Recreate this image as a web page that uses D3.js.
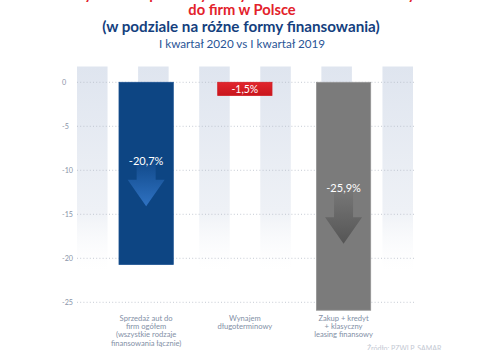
<!DOCTYPE html>
<html>
<head>
<meta charset="utf-8">
<script src="https://cdn.jsdelivr.net/npm/d3@7"></script>
<style>
  html, body { margin: 0; padding: 0; background: #ffffff; }
  svg { display: block; }
</style>
</head>
<body>
<svg id="chart" width="480" height="350"></svg>
<script>
// ---- data ----
const categories = ["sprzedaz", "wynajem", "zakup"];
const categoryLabels = [
  ["Sprzedaż aut do", "firm ogółem", "(wszystkie rodzaje", "finansowania łącznie)"],
  ["Wynajem", "długoterminowy"],
  ["Zakup + kredyt", "+ klasyczny", "leasing finansowy"]
];
const values = [-20.7, -1.5, -25.9];
const valueLabels = ["-20,7%", "-1,5%", "-25,9%"];
const yTicks = [0, -5, -10, -15, -20, -25];
const stripes = ["s1", "s2", "s3", "s4", "s5", "s6"];
const titleLines = [
  "Dynamika sprzedaży nowych samochodów osobowych",
  "do firm w Polsce",
  "(w podziale na różne formy finansowania)",
  "I kwartał 2020 vs I kwartał 2019"
];
const sourceText = "Źródło: PZWLP, SAMAR";

// ---- setup ----
const svg = d3.select("#chart");
const defs = svg.append("defs");
const font = "Lato, 'Open Sans', sans-serif";

const y = d3.scaleLinear().domain([0, -25]).range([82.3, 302.3]);
const x = d3.scaleBand().domain(categories).range([119, 370.7]).paddingInner(0.45).paddingOuter(0);
const xs = d3.scaleBand().domain(stripes).range([77, 413]).paddingInner(0.5).paddingOuter(0);

// gradients
function linGrad(id, stops) {
  const g = defs.append("linearGradient").attr("id", id)
    .attr("x1", 0).attr("y1", 0).attr("x2", 0).attr("y2", 1);
  stops.forEach(s => g.append("stop").attr("offset", s[0]).attr("stop-color", s[1]).attr("stop-opacity", s[2] === undefined ? 1 : s[2]));
}
linGrad("stripeG", [[0, "#dfe5ef"], [0.7, "#eef1f6"], [1, "#ffffff", 0.3]]);
linGrad("redG", [[0, "#e2252c"], [1, "#c8161d"]]);
linGrad("blueArrow", [[0, "#0f4787"], [1, "#2f72c2"]]);
linGrad("grayArrow", [[0, "#7a7a7a"], [1, "#555555"]]);

// background stripes
svg.append("g").selectAll("rect").data(stripes).join("rect")
  .attr("x", d => xs(d)).attr("width", xs.bandwidth())
  .attr("y", 66.5).attr("height", 205)
  .attr("fill", "url(#stripeG)");

// gridlines
svg.append("g").selectAll("line").data(yTicks).join("line")
  .attr("x1", 77).attr("x2", 414)
  .attr("y1", d => y(d)).attr("y2", d => y(d))
  .attr("stroke", "#b8bec8").attr("stroke-width", 0.8)
  .attr("stroke-dasharray", "1,2.2");

// y tick labels
svg.append("g").selectAll("text").data(yTicks).join("text")
  .attr("x", 62).attr("y", d => y(d) + 2.5)
  .attr("font-family", font).attr("font-size", 7.2)
  .attr("fill", "#8a94a8")
  .text(d => d === 0 ? "0" : String(d));

// bars
const barFill = ["#0d4583", "url(#redG)", "#7b7b7b"];
const barStroke = ["#1a5090", "#d01e25", "#949494"];
svg.append("g").selectAll("rect").data(values).join("rect")
  .attr("x", (d, i) => x(categories[i]))
  .attr("width", x.bandwidth())
  .attr("y", d => y(0))
  .attr("height", d => y(d) - y(0))
  .attr("fill", (d, i) => barFill[i])
  .attr("stroke", (d, i) => barStroke[i])
  .attr("stroke-width", 0.8);

// arrows inside bars 1 and 3
const arrowFill = ["url(#blueArrow)", null, "url(#grayArrow)"];
values.forEach((v, i) => {
  if (!arrowFill[i]) return;
  const cx = x(categories[i]) + x.bandwidth() / 2;
  const L = y(v * 0.6) - 27;
  const top = L - 6;
  const H = y(v * 0.82) - 52;
  const T = H + 26.5;
  const sw = 9.5, hw = 18.5;
  const path = `M${cx - sw},${top} L${cx + sw},${top} L${cx + sw},${H} L${cx + hw},${H} L${cx},${T} L${cx - hw},${H} L${cx - sw},${H} Z`;
  svg.append("path").attr("d", path).attr("fill", arrowFill[i]);
  svg.append("text")
    .attr("x", cx).attr("y", L)
    .attr("text-anchor", "middle")
    .attr("font-family", font).attr("font-size", 11)
    .attr("fill", "#ffffff")
    .text(valueLabels[i]);
});

// label for small red bar
svg.append("text")
  .attr("x", x(categories[1]) + x.bandwidth() / 2)
  .attr("y", y(values[1] / 2) + 3.8)
  .attr("text-anchor", "middle")
  .attr("font-family", font).attr("font-size", 10.5)
  .attr("fill", "#ffffff")
  .text(valueLabels[1]);

// category labels
const catG = svg.append("g");
categoryLabels.forEach((lines, i) => {
  const cx = x(categories[i]) + x.bandwidth() / 2;
  const t = catG.append("text")
    .attr("text-anchor", "middle")
    .attr("font-family", font).attr("font-size", 7.6)
    .attr("fill", "#8390a6");
  lines.forEach((ln, j) => {
    t.append("tspan").attr("x", cx).attr("y", 320.5 + j * 8.4).text(ln);
  });
});

// titles
svg.append("text").attr("x", 252).attr("y", -1)
  .attr("text-anchor", "middle").attr("font-family", font)
  .attr("font-weight", "bold").attr("font-size", 14.7).attr("fill", "#e3222b")
  .text(titleLines[0]);
svg.append("text").attr("x", 242).attr("y", 15)
  .attr("text-anchor", "middle").attr("font-family", font)
  .attr("font-weight", "bold").attr("font-size", 14.7).attr("fill", "#e3222b")
  .text(titleLines[1]);
svg.append("text").attr("x", 241).attr("y", 32)
  .attr("text-anchor", "middle").attr("font-family", font)
  .attr("font-weight", "bold").attr("font-size", 15.2).attr("fill", "#153f7e")
  .text(titleLines[2]);
svg.append("text").attr("x", 242).attr("y", 48)
  .attr("text-anchor", "middle").attr("font-family", font)
  .attr("font-size", 11.7).attr("fill", "#2a5596")
  .text(titleLines[3]);

// source
svg.append("text").attr("x", 367).attr("y", 351)
  .attr("font-family", font).attr("font-size", 7)
  .attr("fill", "#c4c9d3")
  .text(sourceText);
</script>
</body>
</html>
